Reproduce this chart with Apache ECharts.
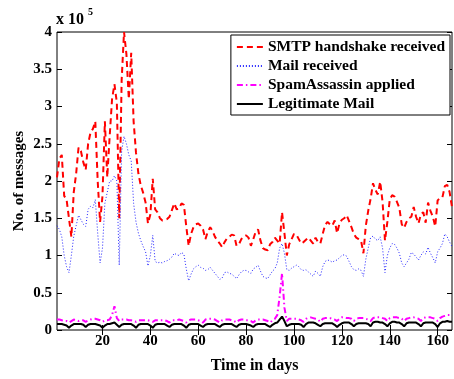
<!DOCTYPE html>
<html>
<head>
<meta charset="utf-8">
<script src="https://cdn.jsdelivr.net/npm/echarts@6/dist/echarts.min.js"></script>
<style>
  html, body { margin: 0; padding: 0; background: #fff; }
  #chart { width: 454px; height: 379px; }
</style>
</head>
<body>
<div id="chart"></div>
<script>
// values are in units of 1e5 messages
var days = [];
for (var d = 1; d <= 166; d++) days.push(d);

var smtp = [
  2.05, 2.30, 2.35, 1.80, 1.75, 1.50, 1.25, 1.85, 2.10, 2.45,
  2.40, 2.25, 2.15, 2.50, 2.65, 2.70, 2.80, 2.00, 1.45, 1.80,
  2.80, 2.05, 2.60, 3.10, 3.30, 3.05, 1.50, 3.35, 4.00, 3.70,
  3.10, 3.72, 2.80, 2.38, 2.10, 1.94, 1.84, 1.71, 1.43, 1.55,
  2.03, 1.62, 1.58, 1.50, 1.47, 1.48, 1.49, 1.52, 1.61, 1.70,
  1.62, 1.63, 1.70, 1.68, 1.39, 1.13, 1.29, 1.38, 1.42, 1.43,
  1.40, 1.35, 1.22, 1.32, 1.38, 1.33, 1.25, 1.20, 1.16, 1.11,
  1.18, 1.23, 1.25, 1.28, 1.27, 1.13, 1.15, 1.22, 1.26, 1.27,
  1.24, 1.13, 1.22, 1.32, 1.35, 1.20, 1.10, 1.08, 1.07, 1.15,
  1.18, 1.24, 1.20, 1.16, 1.58, 1.30, 1.00, 1.15, 1.22, 1.29,
  1.28, 1.22, 1.16, 1.18, 1.21, 1.24, 1.20, 1.16, 1.24, 1.18,
  1.16, 1.29, 1.41, 1.45, 1.42, 1.40, 1.47, 1.30, 1.43, 1.48,
  1.50, 1.54, 1.46, 1.38, 1.29, 1.24, 1.22, 1.20, 1.03, 1.40,
  1.60, 1.76, 1.97, 1.88, 1.82, 1.99, 1.72, 1.20, 1.45, 1.75,
  1.81, 1.79, 1.72, 1.64, 1.42, 1.37, 1.45, 1.50, 1.52, 1.65,
  1.52, 1.43, 1.55, 1.58, 1.44, 1.71, 1.60, 1.52, 1.39, 1.74,
  1.77, 1.78, 1.93, 1.95, 1.85, 1.65
];

var mail = [
  1.40, 1.35, 1.25, 1.00, 0.85, 0.77, 1.00, 1.26, 1.40, 1.54,
  1.48, 1.42, 1.39, 1.62, 1.66, 1.64, 1.75, 1.30, 0.90, 1.10,
  1.70, 1.85, 2.00, 2.00, 2.07, 2.00, 0.87, 2.40, 2.60, 2.50,
  2.35, 2.27, 1.70, 1.45, 1.30, 1.20, 1.12, 1.05, 0.86, 1.00,
  1.27, 0.92, 0.90, 0.91, 0.90, 0.92, 0.93, 0.95, 0.98, 1.03,
  1.01, 1.00, 1.04, 1.02, 0.82, 0.66, 0.75, 0.82, 0.85, 0.87,
  0.84, 0.83, 0.80, 0.81, 0.84, 0.80, 0.76, 0.72, 0.68, 0.70,
  0.77, 0.78, 0.76, 0.75, 0.72, 0.69, 0.74, 0.78, 0.80, 0.80,
  0.78, 0.76, 0.82, 0.84, 0.87, 0.79, 0.72, 0.70, 0.69, 0.74,
  0.79, 0.82, 0.90, 1.10, 1.16, 1.03, 0.81, 0.80, 0.83, 0.85,
  0.87, 0.85, 0.81, 0.80, 0.81, 0.78, 0.75, 0.72, 0.79, 0.76,
  0.72, 0.85, 0.92, 0.94, 0.93, 0.91, 0.93, 0.94, 0.97, 1.00,
  1.01, 0.99, 0.92, 0.85, 0.81, 0.80, 0.82, 0.80, 0.72, 0.95,
  1.10, 1.24, 1.26, 1.22, 1.20, 1.25, 1.10, 0.77, 1.00, 1.10,
  1.16, 1.15, 1.10, 1.03, 0.90, 0.85, 0.90, 0.95, 1.04, 1.02,
  0.98, 0.94, 1.00, 1.05, 1.02, 1.11, 1.03, 0.97, 0.90, 1.05,
  1.10, 1.16, 1.29, 1.25, 1.18, 1.12
];

var spam = [
  0.14, 0.14, 0.13, 0.12, 0.12, 0.10, 0.12, 0.14, 0.13, 0.12,
  0.13, 0.13, 0.11, 0.13, 0.14, 0.15, 0.15, 0.14, 0.13, 0.11,
  0.13, 0.13, 0.14, 0.20, 0.32, 0.16, 0.12, 0.14, 0.14, 0.14,
  0.13, 0.13, 0.12, 0.11, 0.13, 0.13, 0.13, 0.13, 0.13, 0.12,
  0.11, 0.13, 0.13, 0.13, 0.13, 0.13, 0.12, 0.10, 0.13, 0.13,
  0.13, 0.14, 0.13, 0.12, 0.10, 0.13, 0.14, 0.14, 0.14, 0.13,
  0.12, 0.10, 0.14, 0.15, 0.15, 0.15, 0.14, 0.12, 0.10, 0.13,
  0.14, 0.14, 0.14, 0.13, 0.12, 0.10, 0.13, 0.14, 0.14, 0.13,
  0.13, 0.12, 0.10, 0.13, 0.14, 0.14, 0.14, 0.13, 0.12, 0.10,
  0.13, 0.15, 0.20, 0.45, 0.76, 0.30, 0.12, 0.15, 0.15, 0.15,
  0.15, 0.14, 0.13, 0.11, 0.15, 0.16, 0.17, 0.16, 0.15, 0.14,
  0.11, 0.15, 0.16, 0.16, 0.16, 0.15, 0.14, 0.12, 0.15, 0.17,
  0.17, 0.16, 0.16, 0.15, 0.12, 0.15, 0.16, 0.16, 0.16, 0.15,
  0.14, 0.12, 0.16, 0.17, 0.17, 0.17, 0.16, 0.15, 0.12, 0.16,
  0.17, 0.17, 0.17, 0.16, 0.15, 0.12, 0.15, 0.16, 0.17, 0.17,
  0.16, 0.15, 0.12, 0.16, 0.17, 0.17, 0.17, 0.16, 0.15, 0.12,
  0.16, 0.18, 0.19, 0.20, 0.20, 0.20
];

var legit = [
  0.08, 0.08, 0.08, 0.07, 0.06, 0.03, 0.06, 0.08, 0.08, 0.08,
  0.08, 0.07, 0.04, 0.07, 0.08, 0.08, 0.08, 0.07, 0.06, 0.03,
  0.06, 0.08, 0.08, 0.09, 0.10, 0.07, 0.04, 0.07, 0.08, 0.08,
  0.08, 0.08, 0.06, 0.03, 0.07, 0.08, 0.08, 0.08, 0.08, 0.06,
  0.03, 0.07, 0.08, 0.08, 0.08, 0.08, 0.06, 0.04, 0.07, 0.08,
  0.08, 0.08, 0.08, 0.06, 0.03, 0.07, 0.08, 0.08, 0.08, 0.08,
  0.06, 0.04, 0.07, 0.08, 0.08, 0.08, 0.08, 0.06, 0.04, 0.07,
  0.08, 0.08, 0.08, 0.08, 0.06, 0.04, 0.07, 0.08, 0.08, 0.08,
  0.07, 0.06, 0.04, 0.07, 0.08, 0.08, 0.08, 0.08, 0.06, 0.04,
  0.07, 0.09, 0.10, 0.14, 0.18, 0.12, 0.05, 0.07, 0.08, 0.08,
  0.08, 0.08, 0.07, 0.04, 0.08, 0.10, 0.10, 0.10, 0.09, 0.07,
  0.05, 0.08, 0.09, 0.09, 0.09, 0.09, 0.07, 0.04, 0.07, 0.09,
  0.10, 0.10, 0.10, 0.08, 0.05, 0.08, 0.09, 0.09, 0.09, 0.09,
  0.08, 0.05, 0.10, 0.11, 0.11, 0.10, 0.10, 0.08, 0.05, 0.09,
  0.11, 0.11, 0.10, 0.10, 0.08, 0.05, 0.09, 0.10, 0.10, 0.10,
  0.10, 0.08, 0.05, 0.09, 0.10, 0.10, 0.10, 0.10, 0.08, 0.04,
  0.09, 0.11, 0.11, 0.12, 0.11, 0.11
];

var xTicks = [20, 40, 60, 80, 100, 120, 140, 160];

function pairs(vals) {
  return vals.map(function (v, i) { return [days[i], v]; });
}

var font = 'Liberation Serif';
var chart = echarts.init(document.getElementById('chart'));

var xBase = {
  type: 'value',
  min: 1,
  max: 166,
  axisLine: { show: false },
  splitLine: { show: false },
  axisTick: { inside: true, length: 5, customValues: xTicks, lineStyle: { color: '#000' } }
};
var yBase = {
  type: 'value',
  min: 0,
  max: 4,
  interval: 0.5,
  axisLine: { show: false },
  splitLine: { show: false },
  axisTick: { inside: true, length: 5, lineStyle: { color: '#000' } }
};

var option = {
  backgroundColor: '#fff',
  animation: false,
  grid: {
    left: 57, right: 2, top: 32, bottom: 36,
    show: true, borderColor: '#000', borderWidth: 1
  },
  legend: {
    orient: 'vertical',
    right: 4,
    top: 35,
    itemWidth: 26,
    itemHeight: 14,
    itemGap: 3,
    padding: [4, 5, 3, 5],
    backgroundColor: '#fff',
    borderColor: '#000',
    borderWidth: 1,
    borderRadius: 0,
    itemStyle: { opacity: 0 },
    textStyle: { fontFamily: font, fontWeight: 'bold', fontSize: 15.5, color: '#000' },
    data: ['SMTP handshake received', 'Mail received', 'SpamAssassin applied', 'Legitimate Mail']
  },
  xAxis: [
    Object.assign({}, xBase, {
      position: 'bottom',
      name: 'Time in days',
      nameLocation: 'center',
      nameGap: 28,
      nameTextStyle: { fontFamily: font, fontWeight: 'bold', fontSize: 16, color: '#000' },
      axisLabel: { customValues: xTicks, margin: 4, fontFamily: font, fontWeight: 'bold', fontSize: 15, color: '#000' }
    }),
    Object.assign({}, xBase, { position: 'top', axisLabel: { show: false } })
  ],
  yAxis: [
    Object.assign({}, yBase, {
      position: 'left',
      name: 'No. of messages',
      nameLocation: 'center',
      nameGap: 30,
      nameMoveOverlap: false,
      nameTextStyle: { fontFamily: font, fontWeight: 'bold', fontSize: 15, color: '#000' },
      axisLabel: { margin: 5, fontFamily: font, fontWeight: 'bold', fontSize: 15, color: '#000' }
    }),
    Object.assign({}, yBase, { position: 'right', axisLabel: { show: false } })
  ],
  graphic: [
    { type: 'text', left: 56, top: 12, style: { text: 'x 10', fontFamily: font, fontWeight: 'bold', fontSize: 16, fill: '#000' } },
    { type: 'text', left: 88, top: 7, style: { text: '5', fontFamily: font, fontWeight: 'bold', fontSize: 10, fill: '#000' } }
  ],
  series: [
    {
      name: 'SMTP handshake received', type: 'line', symbol: 'none',
      data: pairs(smtp), color: '#ff0000',
      lineStyle: { color: '#ff0000', width: 2, type: [6, 4] }
    },
    {
      name: 'Mail received', type: 'line', symbol: 'none',
      data: pairs(mail), color: '#0000ff',
      lineStyle: { color: '#2222ff', width: 1, type: [1, 2] }
    },
    {
      name: 'SpamAssassin applied', type: 'line', symbol: 'none',
      data: pairs(spam), color: '#ff00ff',
      lineStyle: { color: '#ff00ff', width: 2, type: [6, 3, 1.5, 3] }
    },
    {
      name: 'Legitimate Mail', type: 'line', symbol: 'none',
      data: pairs(legit), color: '#000',
      lineStyle: { color: '#000', width: 2 }
    }
  ]
};

chart.setOption(option);
</script>
</body>
</html>
